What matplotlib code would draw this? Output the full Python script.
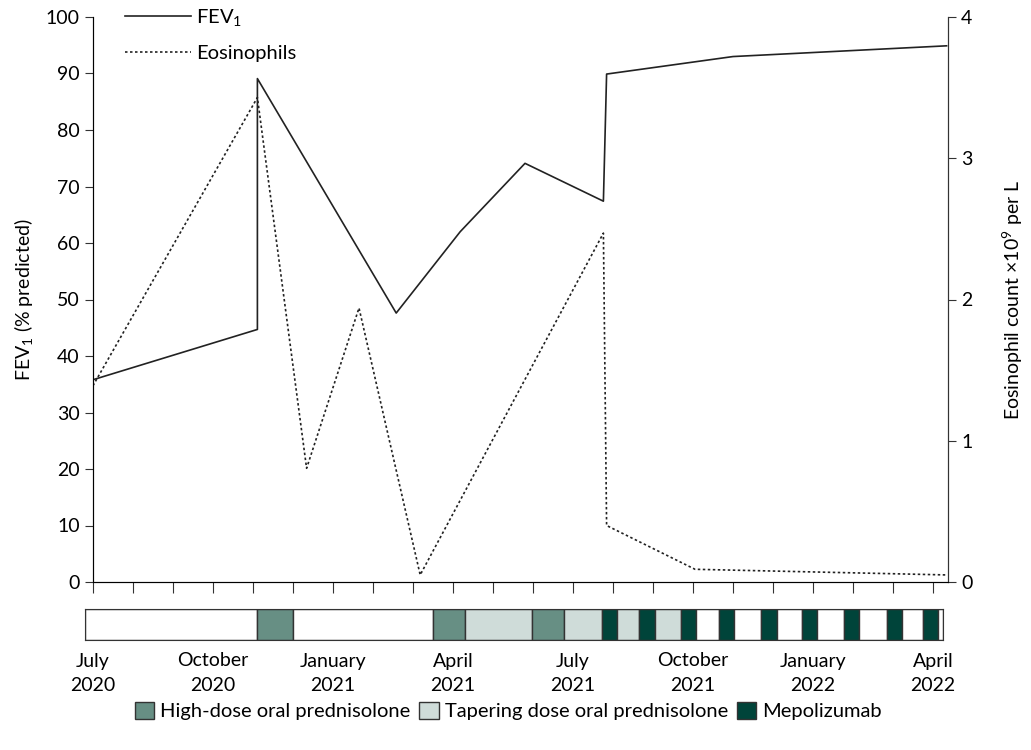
import matplotlib
matplotlib.use("Agg")
import matplotlib.pyplot as plt
from matplotlib.patches import Patch
from matplotlib.lines import Line2D

plt.rcParams['font.family'] = ['Lato', 'DejaVu Sans']
plt.rcParams['mathtext.default'] = 'regular'
plt.rcParams['font.size'] = 14

# months counted from 1 July 2020
fev_month = [0, 4.11, 4.11, 7.58, 9.18, 10.8, 12.76, 12.84, 16.0, 21.34]
fev_value = [35.8, 44.7, 89.1, 47.6, 62.0, 74.1, 67.4, 89.9, 93.0, 94.9]

eos_month = [0, 4.11, 5.34, 6.65, 8.18, 12.76, 12.84, 15.05, 21.34]
eos_value = [1.39, 3.43, 0.805, 1.94, 0.05, 2.47, 0.40, 0.09, 0.05]

# treatment timeline
seg_start = [-0.2, 4.09, 5.01, 8.51, 9.3, 10.98, 11.78, 12.73, 13.11, 13.66,
             14.05, 14.69, 15.08, 15.66, 16.03, 16.7, 17.09, 17.72, 18.09,
             18.78, 19.16, 19.84, 20.22, 20.76, 21.13]
seg_end = seg_start[1:] + [21.25]
seg_kind = ['none', 'high', 'none', 'high', 'taper', 'high', 'taper', 'mepo',
            'taper', 'mepo', 'taper', 'mepo', 'none', 'mepo', 'none', 'mepo',
            'none', 'mepo', 'none', 'mepo', 'none', 'mepo', 'none', 'mepo', 'none']

tick_months = [0, 3, 6, 9, 12, 15, 18, 21]
tick_labels = ["July\n2020", "October\n2020", "January\n2021", "April\n2021",
               "July\n2021", "October\n2021", "January\n2022", "April\n2022"]

kind_colors = {'none': 'white', 'high': '#678f84', 'taper': '#cfdcd9', 'mepo': '#00443a'}
kind_labels = {'high': 'High-dose oral prednisolone',
               'taper': 'Tapering dose oral prednisolone',
               'mepo': 'Mepolizumab'}

W, H = 1031, 750
fig = plt.figure(figsize=(W / 100, H / 100), dpi=100)

# main chart
ax = fig.add_axes([93 / W, 1 - 582 / H, (948 - 93) / W, (582 - 17) / H])
ax.plot(fev_month, fev_value, color='#222222', lw=1.2, label='FEV$_1$')
ax.set_xlim(0, (948 - 93) / 40)
ax.set_ylim(0, 100)
ax.set_yticks(range(0, 101, 10))
ax.set_xticks(range(0, 22))
ax.tick_params(axis='x', labelbottom=False, length=8, direction='out', color='#333333')
ax.tick_params(axis='y', length=6, color='#333333')
ax.spines['top'].set_visible(False)
for s in ['left', 'bottom', 'right']:
    ax.spines[s].set_color('#333333')
ax.set_ylabel('FEV$_1$ (% predicted)', labelpad=8)

ax2 = ax.twinx()
ax2.plot(eos_month, eos_value, color='#222222', lw=1.2, ls=(0, (1.5, 1.5)), label='Eosinophils')
ax2.set_ylim(0, 4)
ax2.set_yticks([0, 1, 2, 3, 4])
ax2.tick_params(axis='y', length=6, color='#333333')
ax2.spines['top'].set_visible(False)
ax2.spines['right'].set_color('#333333')
ax2.set_ylabel('Eosinophil count \u00d710$^9$ per L', labelpad=20)

handles = [Line2D([], [], color='#222222', lw=1.2),
           Line2D([], [], color='#222222', lw=1.2, ls=(0, (1.5, 1.5)))]
ax.legend(handles, ['FEV$_1$', 'Eosinophils'], loc='upper left',
          bbox_to_anchor=(0.037, 1.018), frameon=False, borderpad=0,
          borderaxespad=0, handlelength=3.3, handletextpad=0.25,
          labelspacing=0.85, fontsize=14.5)

# treatment bar
bx = fig.add_axes([85 / W, 1 - 640 / H, (943 - 85) / W, 31 / H])
for s0, s1, k in zip(seg_start, seg_end, seg_kind):
    bx.barh(0, s1 - s0, left=s0, height=1, color=kind_colors[k],
            edgecolor='#333333', linewidth=1)
bx.set_xlim(seg_start[0], seg_end[-1])
bx.set_ylim(-0.5, 0.5)
bx.set_yticks([])
bx.set_xticks(tick_months)
bx.set_xticklabels(tick_labels, linespacing=1.55)
bx.tick_params(axis='x', length=0, pad=9)
for s in bx.spines.values():
    s.set_color('#333333')

leg_handles = [Patch(facecolor=kind_colors[k], edgecolor='#333333', lw=1)
               for k in ['high', 'taper', 'mepo']]
fig.legend(leg_handles, [kind_labels[k] for k in ['high', 'taper', 'mepo']],
           loc='center', bbox_to_anchor=(0.493, 1 - 711 / H), ncol=3,
           frameon=False, handlelength=0.95, handleheight=0.95,
           handletextpad=0.3, columnspacing=0.45, fontsize=14.5)

fig.savefig('out.png', dpi=100)
